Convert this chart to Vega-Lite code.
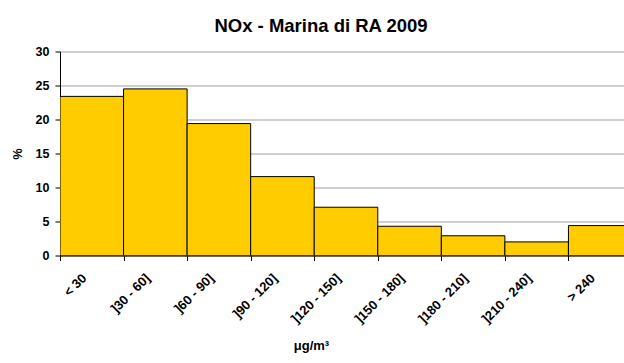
{
  "$schema": "https://vega.github.io/schema/vega-lite/v6.json",
  "width": 564,
  "height": 204,
  "autosize": {"type": "none"},
  "padding": {"left": 60, "top": 51.5, "right": 0, "bottom": 107.5},
  "background": "white",
  "title": {
    "text": "NOx - Marina di RA 2009",
    "font": "Liberation Sans",
    "fontSize": 18.5,
    "fontWeight": "bold",
    "color": "black",
    "anchor": "middle",
    "dx": -21,
    "offset": 10
  },
  "data": {
    "values": [
      {"range": "< 30", "pct": 23.4},
      {"range": "]30 - 60]", "pct": 24.5},
      {"range": "]60 - 90]", "pct": 19.4},
      {"range": "]90 - 120]", "pct": 11.6},
      {"range": "]120 - 150]", "pct": 7.1},
      {"range": "]150 - 180]", "pct": 4.3},
      {"range": "]180 - 210]", "pct": 2.9},
      {"range": "]210 - 240]", "pct": 2.0},
      {"range": "> 240", "pct": 4.4}
    ]
  },
  "mark": {"type": "bar", "fill": "#FFCC00", "stroke": "black", "strokeWidth": 1, "clip": true},
  "encoding": {
    "x": {
      "field": "range",
      "type": "ordinal",
      "sort": null,
      "scale": {"range": [0, 572], "paddingInner": 0, "paddingOuter": 0},
      "axis": {
        "title": "μg/m³",
        "titleFont": "Liberation Sans",
        "titleFontSize": 13,
        "titleFontWeight": "bold",
        "titleColor": "black",
        "titleX": 251,
        "titleY": 94,
        "titleBaseline": "alphabetic",
        "titleAlign": "center",
        "labelFont": "Liberation Sans",
        "labelFontSize": 13,
        "labelFontWeight": "bold",
        "labelColor": "black",
        "labelAngle": -45,
        "labelAlign": "right",
        "labelBaseline": "top",
        "labelPadding": 11,
        "labelOffset": -12,
        "tickBand": "extent",
        "tickSize": 5,
        "tickColor": "black",
        "domainColor": "black",
        "grid": false
      }
    },
    "y": {
      "field": "pct",
      "type": "quantitative",
      "scale": {"domain": [0, 30]},
      "axis": {
        "title": "%",
        "titleFont": "Liberation Sans",
        "titleFontSize": 12.5,
        "titleFontWeight": "bold",
        "titleColor": "black",
        "titlePadding": 11,
        "values": [0, 5, 10, 15, 20, 25, 30],
        "labelFont": "Liberation Sans",
        "labelFontSize": 12.5,
        "labelFontWeight": "bold",
        "labelColor": "black",
        "labelPadding": 6,
        "tickSize": 5,
        "tickColor": "black",
        "domainColor": "black",
        "grid": true,
        "gridColor": "#a0a0a0",
        "gridOpacity": 1
      }
    }
  },
  "config": {"view": {"stroke": null}}
}
